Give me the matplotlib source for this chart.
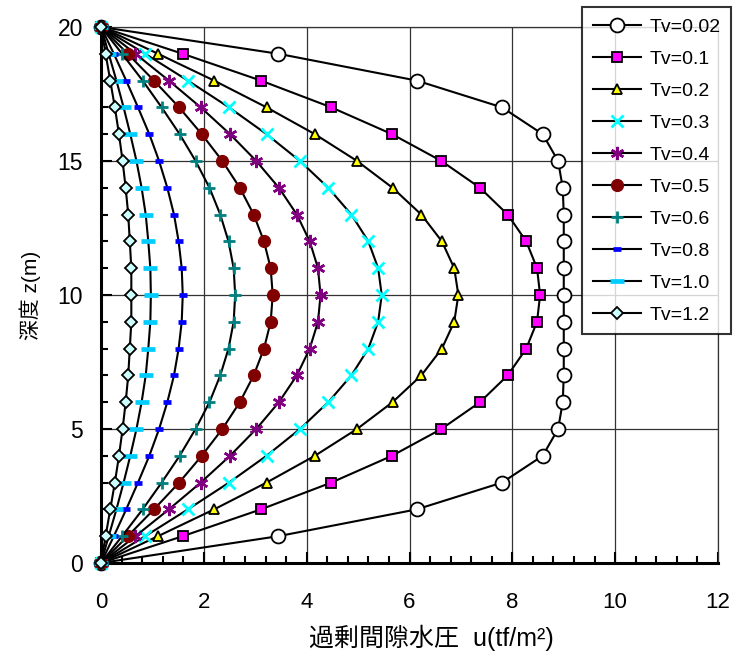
import matplotlib.pyplot as plt
from matplotlib.ticker import MultipleLocator

plt.rcParams['font.family'] = ['Liberation Sans', 'Noto Sans CJK JP', 'DejaVu Sans']

# depth z (m)
depth = list(range(0, 21))

# excess pore pressure u (tf/m2) (symmetric about z=10)
half_002 = [0, 3.45, 6.14, 7.80, 8.59, 8.89, 8.98, 9.00, 9.00, 9.00, 9.00]
half_01 = [0, 1.59, 3.11, 4.48, 5.66, 6.62, 7.37, 7.91, 8.27, 8.48, 8.54]
half_02 = [0, 1.11, 2.20, 3.22, 4.16, 4.98, 5.67, 6.23, 6.63, 6.87, 6.95]
half_03 = [0, 0.86, 1.69, 2.49, 3.22, 3.87, 4.42, 4.87, 5.20, 5.39, 5.46]
half_04 = [0, 0.67, 1.32, 1.94, 2.51, 3.02, 3.46, 3.81, 4.06, 4.22, 4.27]
half_05 = [0, 0.52, 1.03, 1.52, 1.96, 2.36, 2.70, 2.97, 3.17, 3.30, 3.34]
half_06 = [0, 0.41, 0.81, 1.18, 1.53, 1.84, 2.11, 2.32, 2.48, 2.58, 2.61]
half_08 = [0, 0.25, 0.49, 0.72, 0.94, 1.13, 1.29, 1.42, 1.51, 1.57, 1.59]
half_10 = [0, 0.15, 0.30, 0.44, 0.57, 0.69, 0.79, 0.87, 0.92, 0.96, 0.97]
half_12 = [0, 0.09, 0.18, 0.27, 0.35, 0.42, 0.48, 0.53, 0.56, 0.59, 0.59]

labels = ['Tv=0.02', 'Tv=0.1', 'Tv=0.2', 'Tv=0.3', 'Tv=0.4',
          'Tv=0.5', 'Tv=0.6', 'Tv=0.8', 'Tv=1.0', 'Tv=1.2']
halves = [half_002, half_01, half_02, half_03, half_04,
          half_05, half_06, half_08, half_10, half_12]

# marker styles: (marker, size, face, edge, edge width)
styles = [
    ('o', 10, 'white', 'black', 1.3),
    ('s', 7.5, '#FF00FF', 'black', 1.3),
    ('^', 7.5, '#FFFF00', 'black', 1.3),
    ('x', 8.5, '#00FFFF', '#00FFFF', 2.0),
    ((6, 2, 0), 9.5, '#800080', '#800080', 1.8),
    ('o', 8.5, '#800000', '#800000', 1.0),
    ('+', 8.5, '#008080', '#008080', 2.0),
    ('_', 5.5, '#0000FF', '#0000FF', 3.4),
    ('_', 9.5, '#00CCFF', '#00CCFF', 3.4),
    ('D', 6, '#CCFFFF', 'black', 1.3),
]

fig = plt.figure(figsize=(7.35, 6.55), dpi=100)
ax = fig.add_axes([0.1374, 0.1405, 0.8395, 0.8183])

for lab, half, st in zip(labels, halves, styles):
    u = half + half[-2::-1]
    m, ms, fc, ec, mew = st
    ax.plot(u, depth, color='black', lw=1.5, marker=m, ms=ms,
            mfc=fc, mec=ec, mew=mew, label=lab, clip_on=False, zorder=3)

ax.set_xlim(0, 12)
ax.set_ylim(0, 20)
ax.xaxis.set_major_locator(MultipleLocator(2))
ax.xaxis.set_minor_locator(MultipleLocator(0.4))
ax.yaxis.set_major_locator(MultipleLocator(5))
ax.yaxis.set_minor_locator(MultipleLocator(1))
ax.grid(True, which='major', color='#333333', lw=0.9)
ax.tick_params(which='both', direction='in', width=1.5)
ax.tick_params(which='major', length=8)
ax.tick_params(which='minor', length=5)
ax.tick_params(axis='x', labelsize=16, pad=21)
ax.tick_params(axis='y', labelsize=16.5, pad=13)

for side in ['left', 'bottom']:
    ax.spines[side].set_linewidth(2.2)
for side in ['top', 'right']:
    ax.spines[side].set_linewidth(0.9)
    ax.spines[side].set_color('#333333')

ax.set_xlabel('過剰間隙水圧  u(tf/m²)', fontsize=18)
ax.xaxis.set_label_coords(0.535, -0.115)
ax.set_ylabel('深度 z(m)', fontsize=15)
ax.yaxis.set_label_coords(-0.097, 0.5)

leg = fig.legend(loc='upper right', bbox_to_anchor=(0.9946, 0.989), fontsize=14,
                 frameon=True, fancybox=False, edgecolor='black',
                 handlelength=2.5, labelspacing=0.74, borderpad=0.55,
                 handletextpad=0.4, borderaxespad=0)
leg.get_frame().set_linewidth(1.5)

plt.savefig('out.png')
